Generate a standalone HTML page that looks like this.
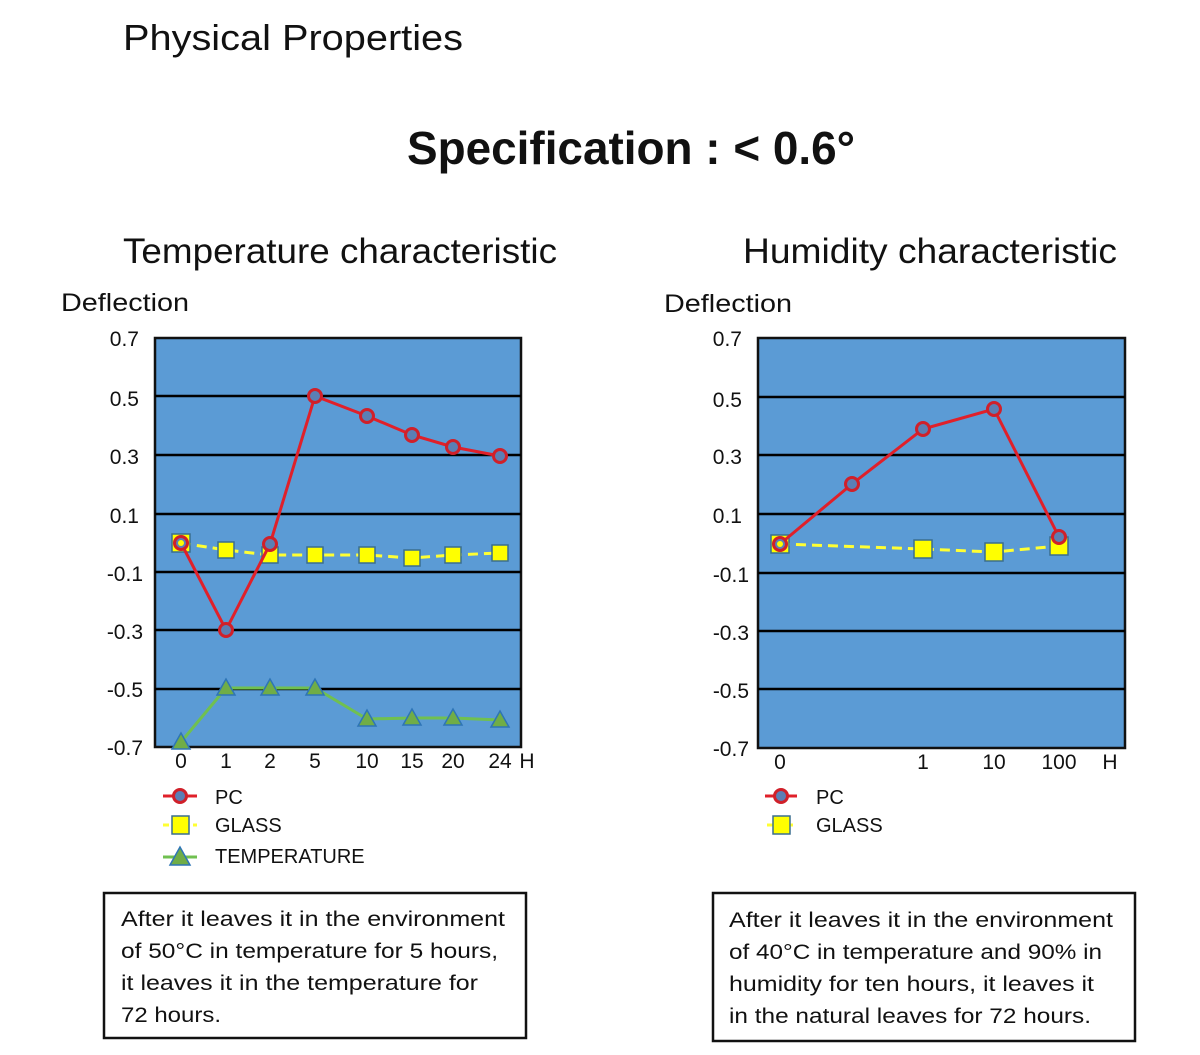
<!DOCTYPE html>
<html><head><meta charset="utf-8"><style>html,body{margin:0;padding:0;background:#fff;}svg{display:block}</style></head>
<body>
<svg width="1200" height="1055" viewBox="0 0 1200 1055" xmlns="http://www.w3.org/2000/svg" font-family="Liberation Sans, sans-serif" fill="#111">
<rect width="1200" height="1055" fill="#fff"/>
<text x="123" y="50" font-size="36" textLength="340" lengthAdjust="spacingAndGlyphs">Physical Properties</text>
<text x="407" y="164" font-size="46" font-weight="bold" textLength="448" lengthAdjust="spacingAndGlyphs">Specification : &lt; 0.6°</text>
<text x="123" y="263" font-size="35" textLength="434" lengthAdjust="spacingAndGlyphs">Temperature characteristic</text>
<text x="743" y="263" font-size="35" textLength="374" lengthAdjust="spacingAndGlyphs">Humidity characteristic</text>
<text x="61" y="311" font-size="25" textLength="128" lengthAdjust="spacingAndGlyphs">Deflection</text>
<text x="664" y="312" font-size="25" textLength="128" lengthAdjust="spacingAndGlyphs">Deflection</text>

<!-- Left chart -->
<rect x="155" y="338" width="366" height="409" fill="#5b9bd5" stroke="#111" stroke-width="2.5"/>
<g stroke="#000" stroke-width="2.5">
<line x1="155" y1="396" x2="521" y2="396"/><line x1="155" y1="455" x2="521" y2="455"/>
<line x1="155" y1="514" x2="521" y2="514"/><line x1="155" y1="572" x2="521" y2="572"/>
<line x1="155" y1="630" x2="521" y2="630"/><line x1="155" y1="689" x2="521" y2="689"/>
</g>
<g font-size="21" text-anchor="end">
<text x="139" y="346">0.7</text><text x="139" y="406">0.5</text><text x="139" y="464">0.3</text>
<text x="139" y="523">0.1</text><text x="143" y="581">-0.1</text><text x="143" y="639">-0.3</text>
<text x="143" y="697">-0.5</text><text x="143" y="755">-0.7</text>
</g>
<g font-size="21" text-anchor="middle">
<text x="181" y="768">0</text><text x="226" y="768">1</text><text x="270" y="768">2</text><text x="315" y="768">5</text>
<text x="367" y="768">10</text><text x="412" y="768">15</text><text x="453" y="768">20</text><text x="500" y="768">24</text><text x="527" y="768">H</text>
</g>
<polyline points="181,742 226,688 270,688 315,688 367,719 412,718 453,718 500,720" fill="none" stroke="#70c050" stroke-width="3"/>
<g fill="#70ad47" stroke="#2e75b6" stroke-width="1.5">
<polygon points="181,733 172,749 190,749"/><polygon points="226,679 217,695 235,695"/><polygon points="270,679 261,695 279,695"/>
<polygon points="315,679 306,695 324,695"/><polygon points="367,710 358,726 376,726"/><polygon points="412,709 403,725 421,725"/>
<polygon points="453,709 444,725 462,725"/><polygon points="500,711 491,727 509,727"/>
</g>
<polyline points="181,543 226,550 270,555 315,555 367,555 412,558 453,555 500,553" fill="none" stroke="#ffff33" stroke-width="3" stroke-dasharray="10,6"/>
<g fill="#ffff00" stroke="#3a6e8f" stroke-width="1.5">
<rect x="172" y="534" width="18" height="18"/><rect x="218" y="542" width="16" height="16"/><rect x="262" y="547" width="16" height="16"/>
<rect x="307" y="547" width="16" height="16"/><rect x="359" y="547" width="16" height="16"/><rect x="404" y="550" width="16" height="16"/>
<rect x="445" y="547" width="16" height="16"/><rect x="492" y="545" width="16" height="16"/>
</g>
<polyline points="181,543 226,630 270,544 315,396 367,416 412,435 453,447 500,456" fill="none" stroke="#e0202a" stroke-width="3"/>
<g fill="#5b7fb5" stroke="#d0202a" stroke-width="3">
<circle cx="181" cy="543" r="6.5"/><circle cx="226" cy="630" r="6.5"/><circle cx="270" cy="544" r="6.5"/><circle cx="315" cy="396" r="6.5"/>
<circle cx="367" cy="416" r="6.5"/><circle cx="412" cy="435" r="6.5"/><circle cx="453" cy="447" r="6.5"/><circle cx="500" cy="456" r="6.5"/>
</g>
<circle cx="181" cy="543" r="3" fill="#ffff00"/>
<!-- legend left -->
<line x1="163" y1="796" x2="197" y2="796" stroke="#e0202a" stroke-width="3"/>
<circle cx="180" cy="796" r="6.5" fill="#5b7fb5" stroke="#d0202a" stroke-width="3"/>
<line x1="163" y1="825" x2="197" y2="825" stroke="#ffff33" stroke-width="3" stroke-dasharray="6,4"/>
<rect x="172" y="816" width="17" height="18" fill="#ffff00" stroke="#3a6e8f" stroke-width="1.5"/>
<line x1="163" y1="857" x2="197" y2="857" stroke="#70c050" stroke-width="3"/>
<polygon points="180,847 170,865 190,865" fill="#70ad47" stroke="#2e75b6" stroke-width="1.5"/>
<g font-size="20"><text x="215" y="804">PC</text><text x="215" y="832">GLASS</text><text x="215" y="863">TEMPERATURE</text></g>

<!-- Right chart -->
<rect x="758" y="338" width="367" height="410" fill="#5b9bd5" stroke="#111" stroke-width="2.5"/>
<g stroke="#000" stroke-width="2.5">
<line x1="758" y1="397" x2="1125" y2="397"/><line x1="758" y1="455" x2="1125" y2="455"/>
<line x1="758" y1="514" x2="1125" y2="514"/><line x1="758" y1="573" x2="1125" y2="573"/>
<line x1="758" y1="631" x2="1125" y2="631"/><line x1="758" y1="689" x2="1125" y2="689"/>
</g>
<g font-size="21" text-anchor="end">
<text x="742" y="346">0.7</text><text x="742" y="407">0.5</text><text x="742" y="464">0.3</text>
<text x="742" y="523">0.1</text><text x="749" y="582">-0.1</text><text x="749" y="640">-0.3</text>
<text x="749" y="698">-0.5</text><text x="749" y="756">-0.7</text>
</g>
<g font-size="21" text-anchor="middle">
<text x="780" y="769">0</text><text x="923" y="769">1</text><text x="994" y="769">10</text><text x="1059" y="769">100</text><text x="1110" y="769">H</text>
</g>
<polyline points="780,544 923,549 994,552 1059,546" fill="none" stroke="#ffff33" stroke-width="3" stroke-dasharray="10,6"/>
<g fill="#ffff00" stroke="#3a6e8f" stroke-width="1.5">
<rect x="771" y="535" width="18" height="18"/><rect x="914" y="540" width="18" height="18"/>
<rect x="985" y="543" width="18" height="18"/><rect x="1050" y="537" width="18" height="18"/>
</g>
<polyline points="780,544 852,484 923,429 994,409 1059,537" fill="none" stroke="#e0202a" stroke-width="3"/>
<g fill="#5b7fb5" stroke="#d0202a" stroke-width="3">
<circle cx="780" cy="544" r="6.5"/><circle cx="852" cy="484" r="6.5"/><circle cx="923" cy="429" r="6.5"/>
<circle cx="994" cy="409" r="6.5"/><circle cx="1059" cy="537" r="6.5"/>
</g>
<circle cx="780" cy="544" r="3" fill="#ffff00"/>
<line x1="765" y1="796" x2="797" y2="796" stroke="#e0202a" stroke-width="3"/>
<circle cx="781" cy="796" r="6.5" fill="#5b7fb5" stroke="#d0202a" stroke-width="3"/>
<line x1="767" y1="825" x2="795" y2="825" stroke="#ffff33" stroke-width="3" stroke-dasharray="6,4"/>
<rect x="773" y="816" width="17" height="18" fill="#ffff00" stroke="#3a6e8f" stroke-width="1.5"/>
<g font-size="20"><text x="816" y="804">PC</text><text x="816" y="832">GLASS</text></g>

<!-- Boxes -->
<rect x="104" y="893" width="422" height="145" fill="#fff" stroke="#111" stroke-width="2.5"/>
<g font-size="21">
<text x="121" y="926" textLength="384" lengthAdjust="spacingAndGlyphs">After it leaves it in the environment</text>
<text x="121" y="958" textLength="377" lengthAdjust="spacingAndGlyphs">of 50°C in temperature for 5 hours,</text>
<text x="121" y="990" textLength="357" lengthAdjust="spacingAndGlyphs">it leaves it in the temperature for</text>
<text x="121" y="1022" textLength="100" lengthAdjust="spacingAndGlyphs">72 hours.</text>
</g>
<rect x="713" y="893" width="422" height="148" fill="#fff" stroke="#111" stroke-width="2.5"/>
<g font-size="21">
<text x="729" y="927" textLength="384" lengthAdjust="spacingAndGlyphs">After it leaves it in the environment</text>
<text x="729" y="959" textLength="373" lengthAdjust="spacingAndGlyphs">of 40°C in temperature and 90% in</text>
<text x="729" y="991" textLength="365" lengthAdjust="spacingAndGlyphs">humidity for ten hours, it leaves it</text>
<text x="729" y="1023" textLength="362" lengthAdjust="spacingAndGlyphs">in the natural leaves for 72 hours.</text>
</g>
</svg>
</body></html>
